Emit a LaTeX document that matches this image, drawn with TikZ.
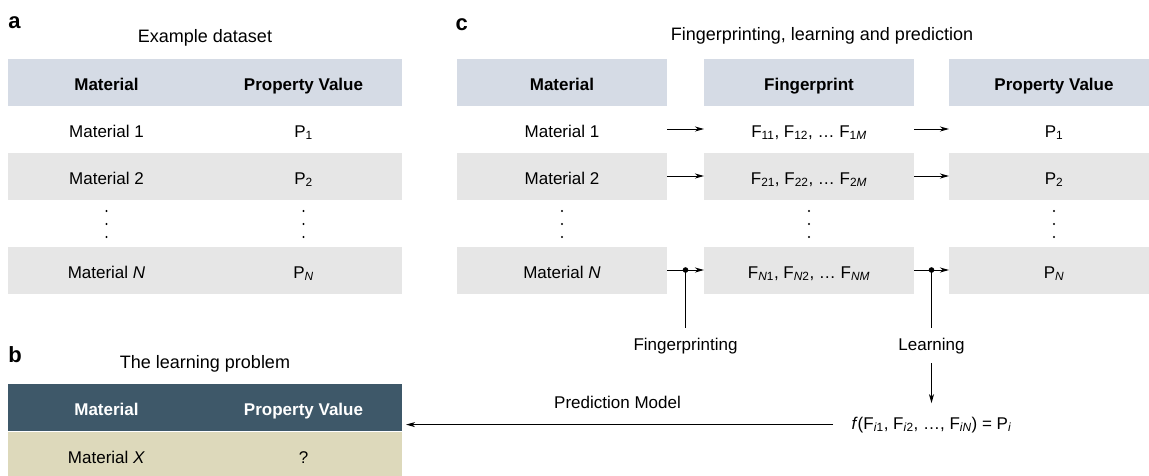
\documentclass[tikz,border=0pt]{standalone}
\usepackage{fontspec}
\setmainfont{Liberation Sans}
\usepackage{tikz}
\usetikzlibrary{positioning,calc,arrows.meta}
\tikzset{>={Stealth[length=9pt,width=5pt,inset=2.6pt]}}
\definecolor{headblue}{HTML}{D5DBE5}
\definecolor{rowgray}{HTML}{E6E6E6}
\definecolor{darkteal}{HTML}{3E5869}
\definecolor{sand}{HTML}{DDD9BB}

\begin{document}
\begin{tikzpicture}[x=1pt,y=-1pt,font=\fontsize{17}{20}\selectfont,line width=1pt,
  cell/.style={minimum height=47pt,inner sep=0pt,outer sep=0pt,text height=16pt,text depth=0pt},
  narrow/.style={cell,minimum width=197pt},
  wide/.style={cell,minimum width=210pt},
  head/.style={fill=headblue,font=\fontsize{17}{20}\selectfont\bfseries},
  shade/.style={fill=rowgray},
  title/.style={font=\fontsize{18}{21}\selectfont,anchor=base},
  panel/.style={font=\fontsize{22}{25}\selectfont\bfseries,anchor=base west,inner sep=0pt},
  tag/.style={anchor=base,inner sep=9pt}]
\useasboundingbox (0,0) rectangle (1149,475);
% a
\node[panel] (la) at (8,28) {a};
\node[title] (ta) at (205,42) {Example dataset};
\node[narrow,head] (a0m) at (106.5,82) {Material};
\node[narrow,head] (a0p) at (303.5,82) {Property Value};
\node[narrow] (a1m) at (106.5,129) {Material 1};
\node[narrow] (a1p) at (303.5,129) {P\textsubscript{1}};
\node[narrow,shade] (a2m) at (106.5,176) {Material 2};
\node[narrow,shade] (a2p) at (303.5,176) {P\textsubscript{2}};
\node[narrow,shade] (aNm) at (106.5,270) {Material \textit{N}};
\node[narrow,shade] (aNp) at (303.5,270) {P\textsubscript{\textit{N}}};
% b
\node[panel] (lb) at (8,362) {b};
\node[title] (tb) at (205,368) {The learning problem};
\node[narrow,fill=darkteal,text=white,font=\fontsize{17}{20}\selectfont\bfseries] (b0m) at (106.5,407) {Material};
\node[narrow,fill=darkteal,text=white,font=\fontsize{17}{20}\selectfont\bfseries] (b0p) at (303.5,407) {Property Value};
\node[narrow,fill=sand] (b1m) at (106.5,455) {Material \textit{X}};
\node[narrow,fill=sand] (b1p) at (303.5,455) {?};
% c
\node[panel] (lc) at (455,30) {c};
\node[title] (tc) at (822,40) {Fingerprinting, learning and prediction};
\node[wide,head] (c0m) at (562,82) {Material};
\node[wide,head] (c0f) at (809,82) {Fingerprint};
\node[wide,head] (c0p) at (1054,82) {Property Value};
\node[wide] (c1m) at (562,129) {Material 1};
\node[wide] (c1f) at (809,129) {F\textsubscript{11}, F\textsubscript{12}, … F\textsubscript{1\textit{M}}};
\node[wide] (c1p) at (1054,129) {P\textsubscript{1}};
\node[wide,shade] (c2m) at (562,176) {Material 2};
\node[wide,shade] (c2f) at (809,176) {F\textsubscript{21}, F\textsubscript{22}, … F\textsubscript{2\textit{M}}};
\node[wide,shade] (c2p) at (1054,176) {P\textsubscript{2}};
\node[wide,shade] (cNm) at (562,270) {Material \textit{N}};
\node[wide,shade] (cNf) at (809,270) {F\textsubscript{\textit{N}1}, F\textsubscript{\textit{N}2}, … F\textsubscript{\textit{NM}}};
\node[wide,shade] (cNp) at (1054,270) {P\textsubscript{\textit{N}}};
\foreach \r in {1,2,N} {
  \draw[->] (c\r m) -- (c\r f);
  \draw[->] (c\r f) -- (c\r p);
}
\foreach \x in {106.5,303.5,562,809,1054} {
  \foreach \y in {211,224,237} {
    \fill (\x,\y) circle[radius=1.2pt];
  }
}
\coordinate (fp) at ($ (cNm.east) ! .5 ! (cNf.west) $);
\coordinate (ln) at ($ (cNf.east) ! .5 ! (cNp.west) $);
\node[tag] (fptag) at (fp |- 0,350) {Fingerprinting};
\node[tag] (lntag) at (ln |- 0,350) {Learning};
\draw (fp) -- (fptag);
\draw (ln) -- (lntag);
\fill (fp) circle[radius=2.8pt];
\fill (ln) circle[radius=2.8pt];
\node[anchor=base,inner xsep=18pt,inner ysep=13pt] (model) at (ln |- 0,429)
  {\textit{f}(F\textsubscript{\textit{i}1}, F\textsubscript{\textit{i}2}, …, F\textsubscript{\textit{iN}}) = P\textsubscript{\textit{i}}};
\draw[->] (lntag) -- (model);
\draw[->,shorten >=4pt] (model.west) -- (model.west -| b0p.east)
  node[midway,above=12pt] {Prediction Model};
\end{tikzpicture}
\end{document}
